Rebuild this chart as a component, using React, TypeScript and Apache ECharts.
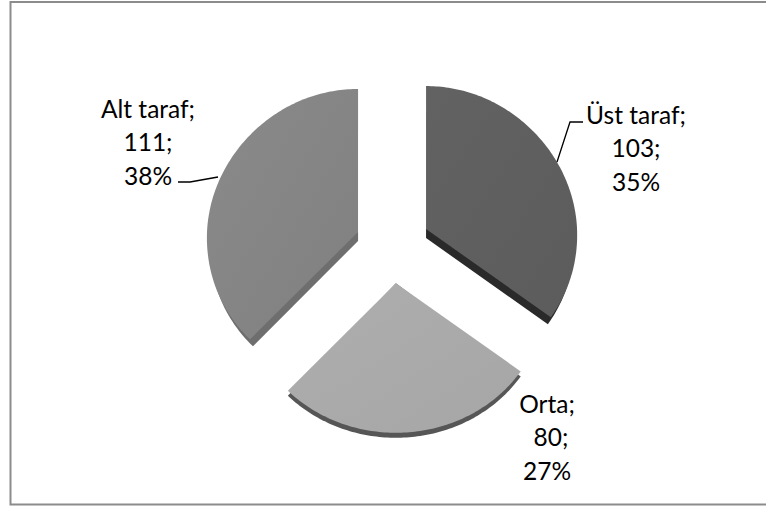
import React, { useEffect, useRef } from "react";
import * as echarts from "echarts";

const categories = ["Üst taraf", "Orta", "Alt taraf"];
const seriesValues = [103, 80, 111];

const topColors = [
  ["#626262", "#5c5c5c"],
  ["#aeaeae", "#a6a6a6"],
  ["#8a8a8a", "#808080"],
];
const sideColors = ["#2a2a2a", "#565656", "#6e6e6e"];
// side wall: which part of the rim shows a wall, and how far apex and rim drop
const sideWall = [
  { apex: [0, 9], rim: [-3, 7], from: 0.68, to: 1 },
  { apex: [0, 0], rim: [0, 5], from: 0, to: 1 },
  { apex: [0, 9], rim: [3, 7], from: 0, to: 0.3 },
];
const labelCenters = [[636, 114], [547, 403], [148, 108]];
const labelNudge = [[0, 0, 0], [0, 4, 0], [0, 0, 0]];
const leaderLines = [
  [[583, 122], [570, 122], [557, 162]],
  [],
  [[178, 182], [190, 182], [218, 177]],
];

const CX = 392.7;
const CY = 246;
const EXPLODE = 37.4;
const RX = 151;
const RX_TILT = 6;
const RY_UP = 143;
const RY_DOWN = 149.5;
const LINE = 33.5;
const FONT = "Lato, Carlito, sans-serif";

const total = seriesValues.reduce((a, b) => a + b, 0);

function rimPoints(cx: number, cy: number, a0: number, a1: number) {
  const pts: number[][] = [];
  const n = Math.max(2, Math.ceil(((a1 - a0) * 180) / Math.PI));
  for (let i = 0; i <= n; i++) {
    const t = a0 + ((a1 - a0) * i) / n;
    const c = Math.cos(t);
    pts.push([cx + (RX - RX_TILT * c) * Math.sin(t), cy - (c > 0 ? RY_UP : RY_DOWN) * c]);
  }
  return pts;
}

function renderItem(params: any, api: any) {
  const i = params.dataIndex;
  const value = api.value(0);
  const before = seriesValues.slice(0, i).reduce((a, b) => a + b, 0);
  const a0 = (before / total) * Math.PI * 2;
  const a1 = ((before + value) / total) * Math.PI * 2;
  const mid = (a0 + a1) / 2;
  const cx = CX + EXPLODE * Math.sin(mid);
  const cy = CY - EXPLODE * Math.cos(mid);
  const wall = sideWall[i];
  const wallRim = rimPoints(
    cx + wall.rim[0],
    cy + wall.rim[1],
    a0 + (a1 - a0) * wall.from,
    a0 + (a1 - a0) * wall.to,
  );
  if (wall.to === 1 && wall.from > 0) wallRim.reverse();
  const pct = Math.round((value / total) * 100);
  const [lx, ly] = labelCenters[i];
  const lines = [`${categories[i]};`, `${value};`, `${pct}%`];
  const children: any[] = [
    {
      type: "polygon",
      shape: { points: [[cx, cy], [cx + wall.apex[0], cy + wall.apex[1]], ...wallRim] },
      style: { fill: sideColors[i] },
    },
    {
      type: "polygon",
      shape: { points: [[cx, cy], ...rimPoints(cx, cy, a0, a1)] },
      style: {
        fill: new echarts.graphic.LinearGradient(0, 0, 1, 1, [
          { offset: 0, color: topColors[i][0] },
          { offset: 1, color: topColors[i][1] },
        ]),
      },
    },
  ];
  if (leaderLines[i].length) {
    children.push({
      type: "polyline",
      shape: { points: leaderLines[i] },
      style: { stroke: "#000", lineWidth: 1.3, fill: "none" },
    });
  }
  lines.forEach((text, k) => {
    children.push({
      type: "text",
      style: {
        x: lx + labelNudge[i][k],
        y: ly + k * LINE,
        text,
        fill: "#000",
        font: `24.5px ${FONT}`,
        textAlign: "center",
        textVerticalAlign: "middle",
      },
    });
  });
  return { type: "group", children };
}

export default function App() {
  const ref = useRef<HTMLDivElement>(null);
  useEffect(() => {
    document.body.style.margin = "0";
    const chart = echarts.init(ref.current!, undefined, { renderer: "svg" });
    chart.setOption({
      animation: false,
      backgroundColor: "#fff",
      graphic: [
        {
          type: "polyline",
          silent: true,
          shape: { points: [[780, 2], [10.5, 2], [10.5, 504.5], [780, 504.5]] },
          style: { stroke: "#8c8c8c", lineWidth: 2, fill: "none" },
        },
      ],
      series: [
        {
          type: "custom",
          coordinateSystem: "none",
          silent: true,
          renderItem,
          data: seriesValues.map((v, i) => ({ name: categories[i], value: [v] })),
        },
      ],
    });
    return () => chart.dispose();
  }, []);
  return <div ref={ref} style={{ width: 766, height: 506 }} />;
}
